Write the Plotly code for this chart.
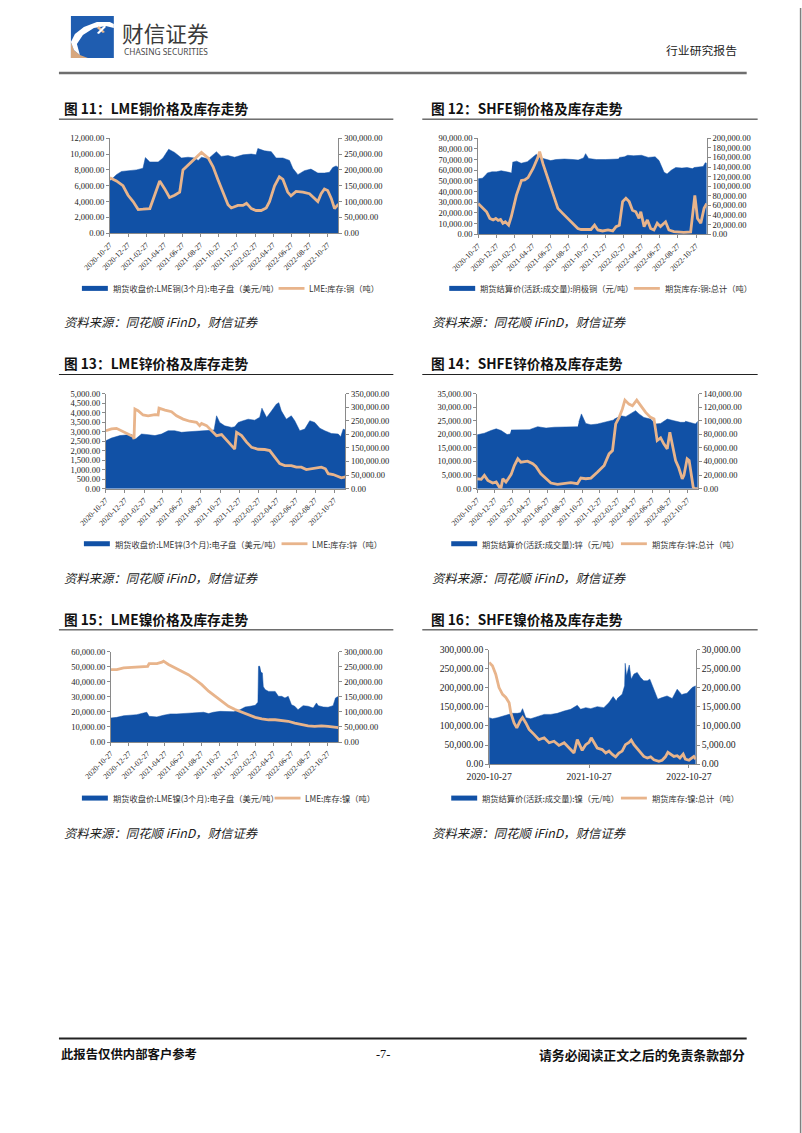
import plotly.graph_objects as go

# ---------------- data ----------------
# Fig 11 LME copper
cu_lme_price_dates = ["2020-10-27","2020-11-18","2020-12-05","2020-12-27","2021-01-24","2021-02-15","2021-02-23","2021-03-10","2021-04-07","2021-04-23","2021-05-12","2021-06-01","2021-06-24","2021-07-16","2021-08-07","2021-08-19","2021-08-30","2021-09-22","2021-10-19","2021-11-04","2021-11-27","2021-12-19","2022-01-16","2022-02-13","2022-03-01","2022-03-07","2022-03-29","2022-04-21","2022-05-07","2022-05-30","2022-06-21","2022-07-02","2022-07-19","2022-08-10","2022-09-01","2022-09-24","2022-10-16","2022-11-02","2022-11-13","2022-11-24","2022-12-02"]
cu_lme_price = [6600,7400,7800,7900,8000,8200,9550,9000,9000,9500,10600,10200,9500,9600,9500,9200,9600,9400,10300,9700,9800,9600,9900,10000,9900,10700,10400,10300,9500,9500,9200,8200,7400,7900,8100,7600,7600,7700,8300,8500,8300]
cu_lme_stock_dates = ["2020-10-27","2020-11-18","2020-12-10","2020-12-27","2021-01-13","2021-01-30","2021-02-15","2021-03-10","2021-03-26","2021-04-12","2021-04-29","2021-05-15","2021-06-01","2021-06-18","2021-06-29","2021-07-16","2021-08-07","2021-08-30","2021-09-22","2021-10-08","2021-10-24","2021-11-10","2021-11-27","2021-12-08","2021-12-30","2022-01-16","2022-01-28","2022-02-13","2022-03-01","2022-03-18","2022-04-04","2022-04-15","2022-05-02","2022-05-18","2022-05-30","2022-06-15","2022-06-26","2022-07-13","2022-08-05","2022-08-27","2022-09-13","2022-09-24","2022-10-05","2022-10-16","2022-10-27","2022-11-08","2022-11-19","2022-12-02"]
cu_lme_stock = [175000,165000,150000,120000,100000,75000,76000,78000,120000,165000,140000,113000,120000,130000,200000,215000,235000,255000,237000,210000,170000,130000,90000,80000,88000,88000,95000,78000,72000,72000,80000,100000,150000,178000,170000,130000,118000,132000,130000,125000,110000,100000,125000,140000,135000,110000,78000,92000]

# Fig 12 SHFE copper (None = no trading / holiday gap)
cu_shfe_price_dates = ["2020-10-27","2020-11-10","2020-11-18","2020-11-27","2020-12-12","2020-12-27","2021-01-12","2021-01-27","2021-02-08","2021-02-15","2021-02-17","2021-02-19","2021-03-05","2021-03-20","2021-04-10","2021-04-27","2021-05-10","2021-05-20","2021-06-12","2021-06-27","2021-07-15","2021-08-12","2021-09-10","2021-09-27","2021-10-15","2021-10-22","2021-11-01","2021-11-27","2021-12-27","2022-01-20","2022-02-08","2022-02-10","2022-02-12","2022-03-01","2022-03-12","2022-04-01","2022-04-27","2022-05-20","2022-06-12","2022-06-25","2022-07-12","2022-07-22","2022-08-05","2022-08-20","2022-09-10","2022-09-27","2022-10-14","2022-10-17","2022-10-20","2022-11-05","2022-11-20","2022-11-27","2022-12-02"]
cu_shfe_price = [52000,52500,54500,57500,58500,58500,59500,59000,58000,57500,None,67500,68500,66500,68000,72000,75000,72000,70000,69000,70000,70500,70000,69500,71500,75500,71000,70000,70000,70500,70500,None,72000,72500,74000,73500,74000,72000,72500,69000,58000,56500,60000,62500,62000,62500,61500,None,62500,63000,63500,67000,66500]
cu_shfe_stock_dates = ["2020-10-27","2020-11-07","2020-11-24","2020-12-05","2020-12-16","2020-12-25","2021-01-02","2021-01-10","2021-01-18","2021-01-26","2021-02-06","2021-02-15","2021-03-04","2021-03-21","2021-04-01","2021-04-12","2021-04-29","2021-05-15","2021-05-21","2021-06-01","2021-06-18","2021-07-04","2021-07-21","2021-08-07","2021-08-23","2021-09-09","2021-09-26","2021-10-07","2021-11-09","2021-11-21","2021-12-02","2021-12-18","2022-01-05","2022-01-21","2022-02-01","2022-02-12","2022-02-23","2022-03-06","2022-03-17","2022-03-28","2022-04-08","2022-04-19","2022-04-25","2022-05-06","2022-05-17","2022-05-28","2022-06-08","2022-06-19","2022-06-30","2022-07-17","2022-07-28","2022-08-14","2022-09-16","2022-10-09","2022-10-23","2022-11-01","2022-11-12","2022-11-23","2022-12-02"]
cu_shfe_stock = [64000,57000,47000,33000,30000,33000,29000,31000,23000,26000,19000,37000,81000,112000,113000,118000,137000,160000,172000,147000,116000,88000,54000,43000,33000,23000,12000,10000,10000,19000,9000,7000,9000,7000,16000,19000,68000,75000,68000,50000,47000,33000,47000,16000,30000,12000,9000,23000,16000,26000,9000,5500,4000,5000,81000,33000,23000,54000,64000]

# Fig 13 LME zinc
zn_lme_price_dates = ["2020-10-27","2020-11-14","2020-12-11","2021-01-06","2021-01-18","2021-01-30","2021-02-18","2021-03-11","2021-04-02","2021-04-23","2021-05-14","2021-06-04","2021-06-26","2021-07-17","2021-08-07","2021-08-29","2021-09-19","2021-10-08","2021-10-16","2021-10-26","2021-11-11","2021-12-03","2021-12-13","2021-12-24","2022-01-09","2022-01-25","2022-02-15","2022-03-03","2022-03-10","2022-03-25","2022-04-10","2022-04-25","2022-05-03","2022-05-11","2022-05-27","2022-06-12","2022-06-23","2022-07-09","2022-07-25","2022-08-10","2022-08-26","2022-09-11","2022-09-27","2022-10-18","2022-11-09","2022-11-17","2022-11-25","2022-12-02"]
zn_lme_price = [2520,2660,2790,2840,2850,2610,2870,2840,2790,2870,3045,3045,2960,2990,3010,3045,3045,3080,3830,3480,3300,3220,3250,3480,3570,3650,3600,3750,4230,3740,4090,4440,4520,4090,3650,3830,3570,3045,3130,3570,3480,3180,3045,2900,2870,2730,3130,3080]
zn_lme_stock_dates = ["2020-10-27","2020-11-14","2020-11-30","2020-12-16","2021-01-01","2021-01-22","2021-01-25","2021-01-28","2021-02-07","2021-02-23","2021-03-11","2021-04-02","2021-04-12","2021-04-15","2021-05-04","2021-05-25","2021-06-10","2021-07-01","2021-07-22","2021-08-13","2021-08-23","2021-08-29","2021-09-14","2021-09-30","2021-10-16","2021-11-01","2021-11-17","2021-12-08","2021-12-13","2021-12-19","2022-01-04","2022-01-20","2022-02-05","2022-02-26","2022-03-19","2022-04-04","2022-04-20","2022-05-06","2022-05-22","2022-06-12","2022-06-28","2022-07-14","2022-07-30","2022-08-21","2022-09-16","2022-09-29","2022-10-08","2022-10-24","2022-11-09","2022-11-19","2022-12-02"]
zn_lme_stock = [213000,220000,222000,213000,204000,192000,183000,293000,287000,271000,268000,272000,271000,296000,289000,283000,268000,256000,248000,244000,232000,240000,232000,213000,195000,199000,177000,152000,146000,207000,195000,171000,152000,145000,144000,140000,116000,92000,85000,85000,79000,79000,70000,74000,79000,73000,55000,52000,45000,40000,43000]

# Fig 14 SHFE zinc
zn_shfe_price_dates = ["2020-10-27","2020-11-21","2020-12-14","2021-01-01","2021-01-18","2021-02-08","2021-02-18","2021-02-20","2021-02-22","2021-03-28","2021-04-26","2021-05-25","2021-06-23","2021-07-22","2021-08-19","2021-09-17","2021-10-11","2021-10-13","2021-10-15","2021-10-24","2021-11-08","2021-11-26","2021-12-19","2022-01-11","2022-02-03","2022-02-10","2022-02-12","2022-02-14","2022-03-09","2022-03-27","2022-04-13","2022-04-30","2022-05-12","2022-05-29","2022-06-21","2022-07-08","2022-07-26","2022-08-18","2022-09-10","2022-10-03","2022-10-16","2022-10-18","2022-10-20","2022-11-12","2022-11-24","2022-12-02"]
zn_shfe_price = [19800,20400,21400,22000,21400,19900,20100,None,21600,21700,21700,22800,22300,22600,22600,22800,22800,None,24500,27500,24000,23500,23800,24400,25000,25200,None,25500,26800,26500,27500,28700,27500,26200,25600,23800,24000,25600,25000,24400,24400,None,24800,24000,23800,24800]
zn_shfe_stock_dates = ["2020-10-27","2020-11-10","2020-11-21","2020-12-03","2020-12-20","2021-01-01","2021-01-12","2021-01-18","2021-01-24","2021-02-04","2021-02-12","2021-02-22","2021-03-05","2021-03-17","2021-03-28","2021-04-20","2021-05-08","2021-05-19","2021-06-05","2021-06-23","2021-07-10","2021-08-02","2021-08-25","2021-09-17","2021-10-10","2021-10-22","2021-11-08","2021-11-26","2021-12-19","2022-01-11","2022-01-28","2022-02-09","2022-02-20","2022-03-04","2022-03-15","2022-03-24","2022-04-07","2022-04-19","2022-05-04","2022-05-18","2022-06-04","2022-06-21","2022-07-03","2022-07-14","2022-07-26","2022-08-06","2022-08-18","2022-08-27","2022-09-04","2022-09-16","2022-09-27","2022-10-09","2022-10-15","2022-10-26","2022-11-02","2022-11-09","2022-11-16","2022-11-20","2022-12-02"]
zn_shfe_stock = [14600,13700,19500,12200,8300,9800,2400,1500,14600,9800,14600,21000,34000,44000,39000,40500,36600,32700,22000,15600,8300,6300,7300,8800,7300,15600,14600,15600,24400,34200,51200,56100,95200,104900,117000,130300,124400,122000,130300,122000,112200,104900,102500,70800,74700,65900,58600,83000,68300,41500,30700,14600,19500,43900,41500,19500,2400,0,0]

# Fig 15 LME nickel
ni_lme_price_dates = ["2020-10-27","2020-11-16","2020-12-09","2020-12-31","2021-01-22","2021-02-14","2021-02-25","2021-03-05","2021-03-31","2021-04-22","2021-05-15","2021-06-06","2021-06-28","2021-07-21","2021-08-12","2021-09-04","2021-09-21","2021-10-07","2021-10-30","2021-11-21","2021-12-14","2022-01-05","2022-01-22","2022-02-08","2022-02-25","2022-03-06","2022-03-08","2022-03-13","2022-03-15","2022-03-17","2022-03-21","2022-03-24","2022-03-30","2022-04-11","2022-05-03","2022-05-14","2022-05-25","2022-06-05","2022-06-16","2022-06-27","2022-07-08","2022-07-19","2022-08-05","2022-08-22","2022-09-08","2022-09-19","2022-09-25","2022-10-12","2022-10-28","2022-11-14","2022-11-22","2022-12-02"]
ni_lme_price = [16000,16400,17500,18000,18200,19300,19800,17100,16700,17800,18700,18700,18900,19300,19800,19800,18900,19800,20400,20400,20200,21500,23300,23800,24400,26500,50400,50400,None,46400,46000,37000,34900,33700,33700,30400,30400,29300,30400,24800,23800,21500,24200,23800,22600,26000,24200,23300,23100,24200,29300,30400]
ni_lme_stock_dates = ["2020-10-27","2020-11-16","2020-12-09","2020-12-31","2021-01-22","2021-02-14","2021-02-28","2021-03-05","2021-03-31","2021-04-17","2021-04-22","2021-05-09","2021-05-31","2021-06-23","2021-07-15","2021-08-07","2021-08-29","2021-09-21","2021-10-13","2021-11-04","2021-11-27","2021-12-19","2022-01-11","2022-02-02","2022-02-25","2022-03-19","2022-04-11","2022-05-03","2022-05-25","2022-06-16","2022-07-08","2022-07-31","2022-08-22","2022-09-13","2022-10-06","2022-10-28","2022-11-20","2022-12-02"]
ni_lme_stock = [241000,241000,247000,249000,250000,252000,252000,261000,261000,266000,269000,258000,247000,236000,224000,208000,191000,169000,152000,136000,119000,108000,99000,91000,82000,77000,74000,74000,72000,69000,63000,58000,54000,52000,54000,52000,50000,48000]

# Fig 16 SHFE nickel
ni_shfe_price_dates = ["2020-10-27","2020-11-08","2020-11-26","2020-12-15","2021-01-02","2021-01-20","2021-02-07","2021-02-19","2021-02-26","2021-03-10","2021-03-28","2021-04-21","2021-05-16","2021-06-09","2021-07-03","2021-07-28","2021-08-21","2021-09-14","2021-09-26","2021-10-15","2021-11-02","2021-11-26","2021-12-20","2022-01-08","2022-01-23","2022-02-03","2022-02-05","2022-02-07","2022-02-25","2022-03-06","2022-03-08","2022-03-13","2022-03-23","2022-03-30","2022-04-09","2022-04-21","2022-05-03","2022-05-15","2022-05-28","2022-06-06","2022-06-21","2022-07-05","2022-07-21","2022-08-08","2022-08-27","2022-09-14","2022-09-30","2022-10-02","2022-10-04","2022-10-20","2022-11-08","2022-11-21"]
ni_shfe_price = [121700,119000,121700,126100,130500,133200,133200,135000,145500,121700,119000,124400,130500,130500,133200,139300,143800,154300,143800,148200,145500,150800,148200,161400,177300,166000,None,172000,183500,205600,264700,232000,260300,223100,236300,240800,227600,218700,218700,223100,196700,170300,174600,179000,172000,196700,183000,None,183500,186100,201100,205600]
ni_shfe_stock_dates = ["2020-10-27","2020-11-08","2020-11-20","2020-12-02","2020-12-15","2020-12-27","2021-01-08","2021-01-14","2021-01-26","2021-02-05","2021-02-17","2021-02-26","2021-03-10","2021-03-22","2021-04-09","2021-04-27","2021-05-16","2021-06-03","2021-06-21","2021-07-09","2021-07-28","2021-08-15","2021-09-02","2021-09-14","2021-09-24","2021-10-02","2021-10-15","2021-10-27","2021-11-04","2021-11-14","2021-11-26","2021-12-14","2021-12-27","2022-01-08","2022-01-20","2022-02-01","2022-02-13","2022-02-25","2022-03-09","2022-03-22","2022-03-30","2022-04-09","2022-04-21","2022-05-03","2022-05-15","2022-05-28","2022-06-09","2022-06-21","2022-07-09","2022-07-21","2022-08-02","2022-08-11","2022-08-21","2022-09-02","2022-09-14","2022-09-24","2022-10-06","2022-10-14","2022-10-27","2022-11-08","2022-11-14","2022-11-21"]
ni_shfe_stock = [26700,25800,23600,20100,18300,17500,16100,13500,10800,9500,11300,12200,10800,9100,7800,6400,6900,5600,6000,4900,5600,4200,2900,6400,4700,3600,5100,5700,6900,5600,4200,3800,2900,3400,2500,1900,2900,3400,5100,5700,6300,5100,4000,3100,2000,1600,1900,1100,700,1000,1900,3100,2500,2000,2200,1600,2600,1300,1000,1600,2000,1300]

tick_dates_2m = ["2020-10-27","2020-12-27","2021-02-27","2021-04-27","2021-06-27","2021-08-27","2021-10-27","2021-12-27","2022-02-27","2022-04-27","2022-06-27","2022-08-27","2022-10-27"]
tick_dates_1y = ["2020-10-27","2021-10-27","2022-10-27"]

# ---------------- layout helpers ----------------
# Layout is designed in reference-page pixels (802 x 1133); the canvas is sized and
# offset so the photographed page lines up with the reference page.
W, H = 802, 1133
OX, SX, OY, SY = 26.0, 0.948, 6.0, 0.989
FIG_W = int(round((W - OX) / SX))
FIG_H = int(round((H - OY) / SY))
FS = 1.03
BLUE = "#1151A6"
TAN = "#E8B48B"
AXC = "#8A8A8A"
SERIF = "Liberation Serif"
CJK = "Noto Sans CJK SC"

def fx(x): return ((x - OX) / SX) / FIG_W
def fy(y): return 1 - ((y - OY) / SY) / FIG_H

charts = [
    dict(pd=cu_lme_price_dates, pv=cu_lme_price, sd=cu_lme_stock_dates, sv=cu_lme_stock,
         box=(108, 337, 138, 233), lr=(12000, 2000), rr=(300000, 50000), end="2022-12-02", ticks="2m",
         title="图 11：LME铜价格及库存走势", tx=60, ty=108, col=0,
         leg=("期货收盘价:LME铜(3个月):电子盘（美元/吨）", "LME:库存:铜（吨）"), lg=(80, 277), lgy=288),
    dict(pd=cu_shfe_price_dates, pv=cu_shfe_price, sd=cu_shfe_stock_dates, sv=cu_shfe_stock,
         box=(477, 706, 138, 234), lr=(90000, 10000), rr=(200000, 20000), end="2022-12-02", ticks="2m",
         title="图 12：SHFE铜价格及库存走势", tx=428, ty=108, col=1,
         leg=("期货结算价(活跃:成交量):阴极铜（元/吨）", "期货库存:铜:总计（吨）"), lg=(448, 633), lgy=288),
    dict(pd=zn_lme_price_dates, pv=zn_lme_price, sd=zn_lme_stock_dates, sv=zn_lme_stock,
         box=(104, 344, 393, 488), lr=(5000, 500), rr=(350000, 50000), end="2022-12-02", ticks="2m",
         title="图 13：LME锌价格及库存走势", tx=60, ty=363, col=0,
         leg=("期货收盘价:LME锌(3个月):电子盘（美元/吨）", "LME:库存:锌（吨）"), lg=(82, 280), lgy=543),
    dict(pd=zn_shfe_price_dates, pv=zn_shfe_price, sd=zn_shfe_stock_dates, sv=zn_shfe_stock,
         box=(476, 697, 393, 488), lr=(35000, 5000), rr=(140000, 20000), end="2022-12-02", ticks="2m",
         title="图 14：SHFE锌价格及库存走势", tx=428, ty=363, col=1,
         leg=("期货结算价(活跃:成交量):锌（元/吨）", "期货库存:锌:总计（吨）"), lg=(450, 620), lgy=543),
    dict(pd=ni_lme_price_dates, pv=ni_lme_price, sd=ni_lme_stock_dates, sv=ni_lme_stock,
         box=(109, 337, 651, 741), lr=(60000, 10000), rr=(300000, 50000), end="2022-12-02", ticks="2m",
         title="图 15：LME镍价格及库存走势", tx=60, ty=618, col=0,
         leg=("期货收盘价:LME镍(3个月):电子盘（美元/吨）", "LME:库存:镍（吨）"), lg=(80, 273), lgy=797),
    dict(pd=ni_shfe_price_dates, pv=ni_shfe_price, sd=ni_shfe_stock_dates, sv=ni_shfe_stock,
         box=(488, 695, 649, 763), lr=(300000, 50000), rr=(30000, 5000), end="2022-11-21", ticks="1y",
         title="图 16：SHFE镍价格及库存走势", tx=428, ty=618, col=1,
         leg=("期货结算价(活跃:成交量):镍（元/吨）", "期货库存:镍:总计（吨）"), lg=(450, 620), lgy=797),
]

fig = go.Figure()
layout = {}
shapes = []
ann = []

def text(x, y, s, size, color="#222", family=CJK, anchor="left", italic=False):
    ann.append(dict(x=fx(x), y=fy(y), xref="paper", yref="paper", text=s, showarrow=False,
                    xanchor=anchor, yanchor="middle",
                    font=dict(size=size * FS, color=color, family=family, style="italic" if italic else "normal")))

def hline(x0, x1, y, color, width):
    shapes.append(dict(type="line", xref="paper", yref="paper", x0=fx(x0), x1=fx(x1), y0=fy(y), y1=fy(y),
                       line=dict(color=color, width=width)))

def vline(x, y0, y1, color, width):
    shapes.append(dict(type="line", xref="paper", yref="paper", x0=fx(x), x1=fx(x), y0=fy(y0), y1=fy(y1),
                       line=dict(color=color, width=width)))

for i, c in enumerate(charts):
    n = i + 1
    xa = "x" if n == 1 else f"x{n}"
    yl_n, yr_n = 2 * i + 1, 2 * i + 2
    yl = "y" if yl_n == 1 else f"y{yl_n}"
    yr = f"y{yr_n}"
    fig.add_trace(go.Scatter(x=c["pd"], y=c["pv"], mode="lines", line=dict(color=BLUE, width=0.5),
                             fill="tozeroy", fillcolor=BLUE, connectgaps=False,
                             xaxis=xa, yaxis=yl, hoverinfo="skip", showlegend=False))
    fig.add_trace(go.Scatter(x=c["sd"], y=c["sv"], mode="lines", line=dict(color=TAN, width=2.8),
                             xaxis=xa, yaxis=yr, hoverinfo="skip", showlegend=False))
    l, r, t, b = c["box"]
    if c["ticks"] == "2m":
        tv, ta, tfs = tick_dates_2m, -45, 7.7
    else:
        tv, ta, tfs = tick_dates_1y, 0, 9.7
    numfs = 9.7 if c["ticks"] == "1y" else 8.5
    layout["xaxis" if n == 1 else f"xaxis{n}"] = dict(
        domain=[fx(l), fx(r)], anchor=yl, type="date", range=["2020-10-27", c["end"]],
        tickmode="array", tickvals=tv, ticktext=tv, tickangle=ta,
        tickfont=dict(family=SERIF, size=tfs, color="#222"),
        showline=True, linecolor=AXC, linewidth=1, ticks="outside", ticklen=3, tickcolor=AXC,
        showgrid=False, zeroline=False, fixedrange=True)
    layout["yaxis" if yl_n == 1 else f"yaxis{yl_n}"] = dict(
        domain=[fy(b), fy(t)], anchor=xa, range=[0, c["lr"][0]], dtick=c["lr"][1], tick0=0,
        tickformat=",.2f", tickfont=dict(family=SERIF, size=numfs, color="#222"),
        showline=True, linecolor=AXC, linewidth=1, ticks="outside", ticklen=3, tickcolor=AXC,
        showgrid=False, zeroline=False, fixedrange=True)
    layout[f"yaxis{yr_n}"] = dict(
        overlaying=yl, side="right", anchor=xa, range=[0, c["rr"][0]], dtick=c["rr"][1], tick0=0,
        tickformat=",.2f", tickfont=dict(family=SERIF, size=numfs, color="#222"),
        showline=True, linecolor=AXC, linewidth=1, ticks="outside", ticklen=3, tickcolor=AXC,
        showgrid=False, zeroline=False, fixedrange=True)

    # title + rule
    text(c["tx"], c["ty"], "<b>" + c["title"] + "</b>", 13.3, color="#111")
    if c["col"] == 0:
        hline(57, 392, c["ty"] + 11, "#222", 1)
        src_x = 60
    else:
        hline(421, 757, c["ty"] + 11, "#222", 1)
        src_x = 429
    text(src_x, c["ty"] + 214, "资料来源：同花顺 iFinD，财信证券", 12, color="#222", italic=True)

    # legend (drawn)
    bx, lx = c["lg"]
    ly = c["lgy"]
    shapes.append(dict(type="rect", xref="paper", yref="paper", x0=fx(bx), x1=fx(bx + 26),
                       y0=fy(ly + 2.5), y1=fy(ly - 2.5), fillcolor=BLUE, line=dict(width=0)))
    text(bx + 29, ly, c["leg"][0], 8, color="#333")
    hline(lx, lx + 26, ly, TAN, 2.8)
    text(lx + 29, ly, c["leg"][1], 8, color="#333")

# ---------------- header ----------------
def path(pts, close=True):
    s = "M " + " L ".join(f"{fx(x):.5f},{fy(y):.5f}" for x, y in pts)
    return s + (" Z" if close else "")

shapes.append(dict(type="rect", xref="paper", yref="paper", x0=fx(69), x1=fx(112), y0=fy(58), y1=fy(16),
                   fillcolor="#1F5DB0", line=dict(width=0)))
shapes.append(dict(type="path", xref="paper", yref="paper",
                   path=path([(69, 42), (72, 50), (78, 55), (86, 58), (69, 58)]),
                   fillcolor="#D7A77E", line=dict(width=0)))
shapes.append(dict(type="path", xref="paper", yref="paper",
                   path=path([(69, 42), (73, 34), (82, 27), (95, 22), (108, 22), (112, 24),
                              (112, 28), (104, 26), (92, 28), (81, 35), (75, 44), (78, 55), (72, 50)]),
                   fillcolor="#FFFFFF", line=dict(width=0)))
shapes.append(dict(type="path", xref="paper", yref="paper",
                   path=path([(97, 26), (103, 32), (101, 33), (95, 28)]), fillcolor="#E9B98F", line=dict(width=0)))
shapes.append(dict(type="path", xref="paper", yref="paper",
                   path=path([(103, 25), (95, 33), (97, 34), (104, 27)]), fillcolor="#FFFFFF", line=dict(width=0)))
text(118, 32, "财信证券", 21, color="#3A3A3A")
text(120, 51, "CHASING SECURITIES", 8.1, color="#4A4A4A", family="Noto Sans")
text(663, 49, "行业研究报告", 11.5, color="#222")
hline(57, 746, 73, "#6E6E6E", 2.5)

# ---------------- footer ----------------
hline(57, 746, 1037, "#222", 2)
text(57, 1053, "<b>此报告仅供内部客户参考</b>", 12, color="#111")
text(382, 1053, "-7-", 12, color="#111", family=SERIF, anchor="center")
text(746, 1053, "<b>请务必阅读正文之后的免责条款部分</b>", 12.5, color="#111", anchor="right")

# right edge of the page
vline(800, 8, 1132, "#7F7F7F", 1.5)

fig.update_layout(width=FIG_W, height=FIG_H, autosize=False, margin=dict(l=0, r=0, t=0, b=0),
                  paper_bgcolor="white", plot_bgcolor="rgba(0,0,0,0)", showlegend=False,
                  separators=".,", shapes=shapes, annotations=ann, **layout)

fig.write_html("out.html", config={"displayModeBar": False, "staticPlot": True},
               post_script="document.body.style.margin='0';")
